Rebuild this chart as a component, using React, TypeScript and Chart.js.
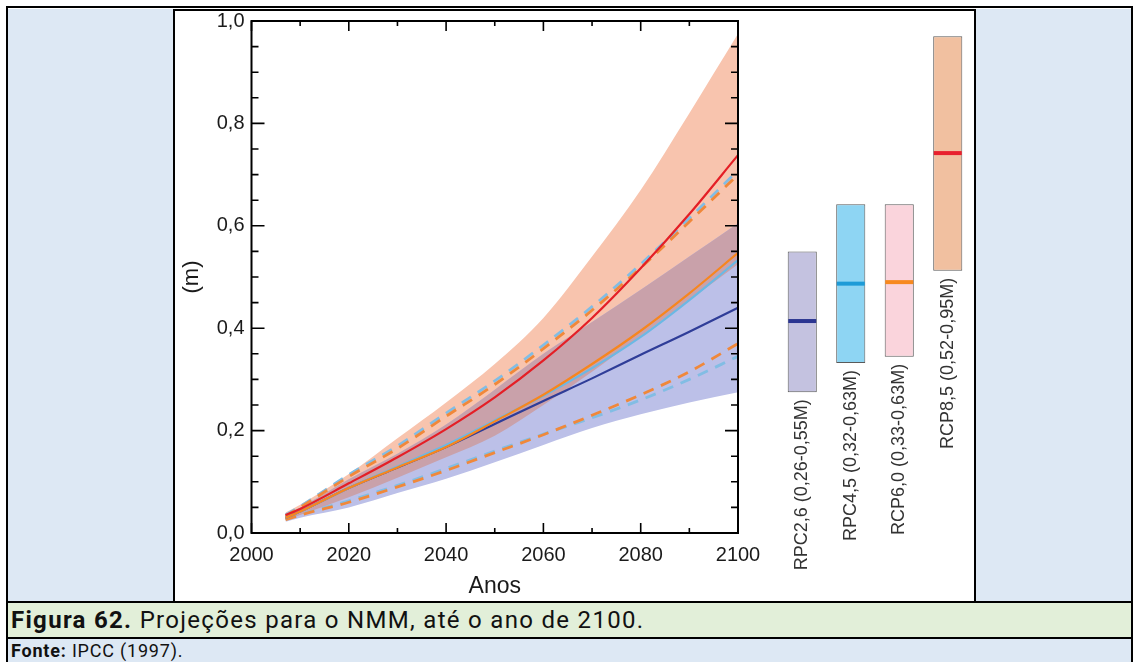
import React, { useEffect, useRef } from 'react';
import { Chart, registerables } from 'chart.js';

Chart.register(...registerables);

// ---------- data ----------
const years = [2007, 2010, 2020, 2030, 2040, 2050, 2060, 2070, 2080, 2090, 2100];

const rcp85Median = [0.035, 0.047, 0.097, 0.148, 0.203, 0.265, 0.337, 0.42, 0.517, 0.623, 0.738];
const rcp60Median = [0.03, 0.042, 0.088, 0.128, 0.168, 0.218, 0.27, 0.33, 0.395, 0.468, 0.547];
const rcp45Median = [0.03, 0.042, 0.088, 0.13, 0.172, 0.22, 0.268, 0.322, 0.383, 0.455, 0.533];
const rcp26Median = [0.03, 0.042, 0.088, 0.128, 0.168, 0.213, 0.258, 0.302, 0.348, 0.393, 0.44];

const upperDashOrange = [0.033, 0.05, 0.11, 0.165, 0.228, 0.29, 0.36, 0.435, 0.518, 0.608, 0.7];
const upperDashBlue = [0.035, 0.052, 0.114, 0.17, 0.234, 0.297, 0.367, 0.442, 0.525, 0.615, 0.708];
const lowerDashOrange = [0.026, 0.035, 0.06, 0.09, 0.122, 0.157, 0.192, 0.23, 0.27, 0.315, 0.37];
const lowerDashBlue = [0.027, 0.036, 0.063, 0.093, 0.126, 0.16, 0.193, 0.225, 0.26, 0.3, 0.345];

const rcp85Upper = [0.04, 0.055, 0.115, 0.185, 0.255, 0.33, 0.42, 0.54, 0.67, 0.82, 0.975];
const rcp85Lower = [0.025, 0.035, 0.07, 0.108, 0.148, 0.19, 0.25, 0.315, 0.385, 0.455, 0.525];
const rcp26Upper = [0.038, 0.05, 0.105, 0.155, 0.212, 0.28, 0.35, 0.412, 0.475, 0.54, 0.605];
const rcp26Lower = [0.022, 0.03, 0.05, 0.078, 0.106, 0.138, 0.172, 0.205, 0.232, 0.255, 0.275];

const scenarioLabels = [
  'RPC2,6 (0,26-0,55M)',
  'RPC4,5 (0,32-0,63M)',
  'RCP6,0 (0,33-0,63M)',
  'RCP8,5 (0,52-0,95M)',
];
const scenarioLow = [0.275, 0.332, 0.344, 0.512];
const scenarioHigh = [0.55, 0.642, 0.642, 0.97];
const scenarioMedian = [0.414, 0.487, 0.49, 0.742];

const yTickLabelsEvery = 0.2;
const xTickLabelsEvery = 20;

// ---------- styles ----------
const FONT = '"Liberation Sans", Arial, Helvetica, sans-serif';
const LIGHT_BLUE = '#dde8f4';
const LIGHT_GREEN = '#e2efd9';

const pts = (vals: number[]) => years.map((x, i) => ({ x, y: vals[i] }));

const lineDs = (label: string, vals: number[], color: string, width: number, dash: number[] = []) => ({
  type: 'line' as const,
  label,
  data: pts(vals),
  borderColor: color,
  backgroundColor: color,
  borderWidth: width,
  borderDash: dash,
  pointRadius: 0,
  fill: false,
  cubicInterpolationMode: 'monotone' as const,
});

const bandDs = (label: string, vals: number[], color: string, fill: number | false) => ({
  type: 'line' as const,
  label,
  data: pts(vals),
  borderColor: 'rgba(0,0,0,0)',
  backgroundColor: color,
  borderWidth: 0,
  pointRadius: 0,
  fill,
  cubicInterpolationMode: 'monotone' as const,
});

const isMultiple = (v: number, step: number) => Math.abs(v / step - Math.round(v / step)) < 1e-6;

const frameTicks = {
  id: 'frameTicks',
  afterDatasetsDraw(chart: any) {
    const { ctx, chartArea } = chart;
    const { left, right, top, bottom } = chartArea;
    const x = chart.scales.x;
    const y = chart.scales.y;
    ctx.save();
    ctx.strokeStyle = '#000';
    ctx.lineWidth = 1.6;
    ctx.beginPath();
    x.ticks.forEach((t: any) => {
      const px = x.getPixelForValue(t.value);
      const len = isMultiple(t.value, xTickLabelsEvery) ? 10 : 5;
      ctx.moveTo(px, bottom);
      ctx.lineTo(px, bottom - len);
      ctx.moveTo(px, top);
      ctx.lineTo(px, top + len);
    });
    y.ticks.forEach((t: any) => {
      const py = y.getPixelForValue(t.value);
      const len = isMultiple(t.value, yTickLabelsEvery) ? 13 : 7;
      ctx.moveTo(left, py);
      ctx.lineTo(left + len, py);
      ctx.moveTo(right, py);
      ctx.lineTo(right - len, py);
    });
    ctx.stroke();
    ctx.lineWidth = 2;
    ctx.strokeRect(left, top, right - left, bottom - top);
    ctx.restore();
  },
};

const barLabels = {
  id: 'barLabels',
  afterDatasetsDraw(chart: any) {
    const { ctx } = chart;
    const meta = chart.getDatasetMeta(1);
    ctx.save();
    ctx.font = `18px ${FONT}`;
    ctx.fillStyle = '#333';
    ctx.textAlign = 'right';
    ctx.textBaseline = 'middle';
    meta.data.forEach((el: any, i: number) => {
      const { x, y, base } = el.getProps(['x', 'y', 'base'], true);
      const b = Math.max(y, base);
      ctx.save();
      ctx.translate(x, b + 7);
      ctx.rotate(-Math.PI / 2);
      ctx.fillText(scenarioLabels[i], 0, 0);
      ctx.restore();
    });
    ctx.restore();
  },
};

export default function App() {
  const mainRef = useRef<HTMLCanvasElement>(null);
  const barRef = useRef<HTMLCanvasElement>(null);

  useEffect(() => {
    document.body.style.margin = '0';
    Chart.defaults.font.family = FONT;

    const datasets: any[] = [
      lineDs('RCP8.5', rcp85Median, '#e41f26', 2.2),
      lineDs('RCP6.0', rcp60Median, '#f7861e', 2.2),
      lineDs('RCP4.5', rcp45Median, '#6bb8e4', 2.2),
      lineDs('RCP2.6', rcp26Median, '#2f3d98', 2.2),
      lineDs('upper dashed orange', upperDashOrange, '#f0883a', 2.8, [11, 8]),
      lineDs('upper dashed blue', upperDashBlue, '#82bde4', 2.8, [11, 8]),
      lineDs('lower dashed orange', lowerDashOrange, '#f0883a', 2.8, [11, 8]),
      lineDs('lower dashed blue', lowerDashBlue, '#82bde4', 2.8, [11, 8]),
      bandDs('overlap upper', rcp26Upper, '#c9a1aa', 9),
      bandDs('overlap lower', rcp85Lower, 'rgba(0,0,0,0)', false),
      bandDs('RCP2.6 upper', rcp26Upper, '#bcc0e8', 11),
      bandDs('RCP2.6 lower', rcp26Lower, 'rgba(0,0,0,0)', false),
      bandDs('RCP8.5 upper', rcp85Upper, '#f8c4ae', 13),
      bandDs('RCP8.5 lower', rcp85Lower, 'rgba(0,0,0,0)', false),
    ];

    const main = new Chart(mainRef.current!, {
      type: 'line',
      data: { datasets },
      options: {
        animation: false,
        responsive: false,
        layout: { autoPadding: false, padding: { top: 10, right: 37, left: 0, bottom: 0 } },
        plugins: {
          legend: { display: false },
          tooltip: { enabled: false },
          filler: { drawTime: 'beforeDatasetDraw', propagate: false },
        },
        scales: {
          x: {
            type: 'linear',
            min: 2000,
            max: 2100,
            grid: { display: false, drawTicks: false },
            border: { display: false },
            ticks: {
              stepSize: 10,
              autoSkip: false,
              maxRotation: 0,
              padding: 10,
              color: '#1a1a1a',
              font: { size: 20, family: FONT },
              callback: (v: any) => (isMultiple(Number(v), xTickLabelsEvery) ? String(v) : ''),
            },
            title: {
              display: true,
              text: 'Anos',
              color: '#1a1a1a',
              font: { size: 23, family: FONT },
              padding: { top: 0, bottom: 1 },
            },
            afterFit: (s: any) => {
              s.height = 68;
              s.paddingLeft = 0;
              s.paddingRight = 0;
            },
          },
          y: {
            min: 0,
            max: 1,
            grid: { display: false, drawTicks: false },
            border: { display: false },
            ticks: {
              stepSize: 0.05,
              autoSkip: false,
              padding: 7,
              color: '#1a1a1a',
              font: { size: 20, family: FONT },
              callback: (v: any) =>
                isMultiple(Number(v), yTickLabelsEvery) ? Number(v).toFixed(1).replace('.', ',') : '',
            },
            title: {
              display: true,
              text: '(m)',
              color: '#1a1a1a',
              font: { size: 22, family: FONT },
              padding: { top: 4, bottom: 0 },
            },
            afterFit: (s: any) => {
              s.width = 76.5;
              s.paddingTop = 0;
              s.paddingBottom = 0;
            },
          },
        },
      } as any,
      plugins: [frameTicks],
    });

    const bars = new Chart(barRef.current!, {
      type: 'bar',
      data: {
        labels: scenarioLabels,
        datasets: [
          {
            type: 'line',
            data: scenarioMedian,
            showLine: false,
            pointStyle: 'line',
            pointRadius: 14,
            pointHoverRadius: 14,
            pointBorderWidth: 4,
            pointBorderColor: ['#2b3591', '#1d9bd7', '#f7891f', '#e8202d'],
            pointBackgroundColor: ['#2b3591', '#1d9bd7', '#f7891f', '#e8202d'],
            order: 0,
          } as any,
          {
            type: 'bar',
            data: scenarioLow.map((lo, i) => [lo, scenarioHigh[i]]),
            backgroundColor: ['#c4c2e0', '#8ed5f3', '#fad4dc', '#f1c0a0'],
            borderColor: '#5a5a5a',
            borderWidth: 1,
            borderSkipped: false,
            barPercentage: 0.6,
            categoryPercentage: 1,
            order: 1,
          } as any,
        ],
      },
      options: {
        animation: false,
        responsive: false,
        layout: { autoPadding: false, padding: { top: 10, bottom: 68, left: 3, right: 1 } },
        plugins: { legend: { display: false }, tooltip: { enabled: false } },
        scales: {
          x: { display: false },
          y: { display: false, min: 0, max: 1 },
        },
      } as any,
      plugins: [barLabels],
    });

    return () => {
      main.destroy();
      bars.destroy();
    };
  }, []);

  const abs = (s: React.CSSProperties): React.CSSProperties => ({ position: 'absolute', ...s });

  return (
    <div
      style={{
        position: 'fixed',
        left: 0,
        top: 0,
        width: 1134,
        height: 662,
        background: '#fff',
        overflow: 'hidden',
      }}
    >
      {/* outer frame */}
      <div style={abs({ left: 6, top: 6, width: 1127, height: 2, background: '#000' })} />
      <div style={abs({ left: 6, top: 6, width: 2, height: 656, background: '#000' })} />
      <div style={abs({ left: 1131, top: 6, width: 2, height: 656, background: '#000' })} />
      {/* side cells */}
      <div style={abs({ left: 8, top: 9, width: 165, height: 592, background: LIGHT_BLUE })} />
      <div style={abs({ left: 976, top: 9, width: 155, height: 592, background: LIGHT_BLUE })} />
      {/* chart cell */}
      <div
        style={abs({
          left: 173,
          top: 9,
          width: 799,
          height: 590,
          border: '2px solid #000',
          background: '#fff',
        })}
      />
      <div style={abs({ left: 6, top: 601, width: 1127, height: 2, background: '#000' })} />
      {/* caption */}
      <div
        style={abs({
          left: 8,
          top: 603,
          width: 1123,
          height: 34,
          background: LIGHT_GREEN,
          display: 'flex',
          alignItems: 'center',
          paddingLeft: 3,
          boxSizing: 'border-box',
          fontFamily: 'Roboto, "Noto Sans", sans-serif',
          fontSize: 24,
          letterSpacing: 1.3,
          color: '#111',
          whiteSpace: 'nowrap',
        })}
      >
        <b>Figura 62.</b>&nbsp;Projeções para o NMM, até o ano de 2100.
      </div>
      <div style={abs({ left: 6, top: 637, width: 1127, height: 2, background: '#000' })} />
      <div
        style={abs({
          left: 8,
          top: 639,
          width: 1123,
          height: 23,
          background: LIGHT_BLUE,
          display: 'flex',
          alignItems: 'center',
          paddingLeft: 3,
          boxSizing: 'border-box',
          fontFamily: 'Roboto, "Noto Sans", sans-serif',
          fontSize: 18,
          letterSpacing: 0.8,
          color: '#111',
          whiteSpace: 'nowrap',
        })}
      >
        <b>Fonte:</b>&nbsp;IPCC (1997).
      </div>
      {/* charts */}
      <canvas ref={mainRef} width={600} height={590} style={abs({ left: 175, top: 11, width: 600, height: 590 })} />
      <canvas ref={barRef} width={198} height={590} style={abs({ left: 775, top: 11, width: 198, height: 590 })} />
    </div>
  );
}
